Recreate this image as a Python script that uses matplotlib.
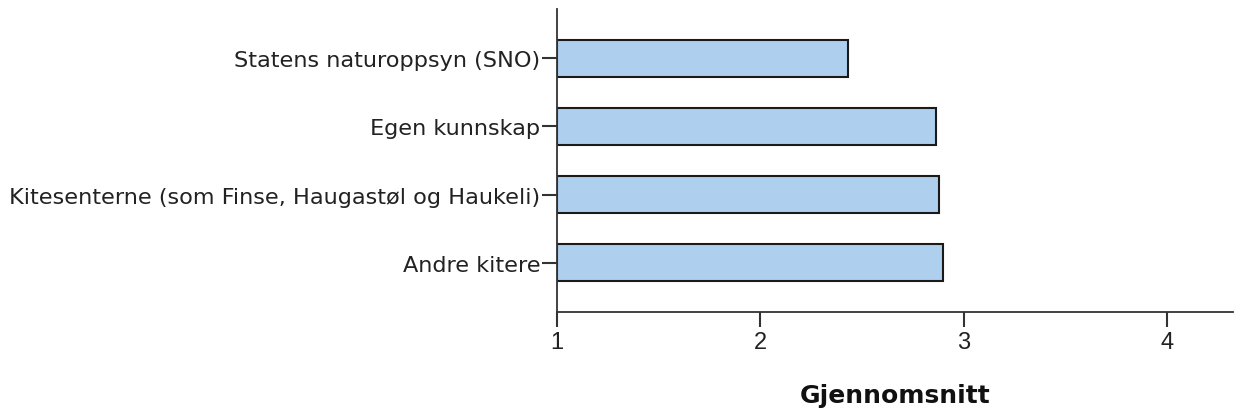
import matplotlib
matplotlib.use("Agg")
import matplotlib.pyplot as plt

# ── Data ──────────────────────────────────────────────────────────────────────
categories = [
    "Statens naturoppsyn (SNO)",
    "Egen kunnskap",
    "Kitesenterne (som Finse, Haugastøl og Haukeli)",
    "Andre kitere",
]
means = [2.43, 2.865, 2.88, 2.90]
x_ticks = [1, 2, 3, 4]
x_label = "Gjennomsnitt"

# ── Style ─────────────────────────────────────────────────────────────────────
BAR_COLOR  = "#aecfee"
EDGE_COLOR = "#1a1a1a"
AXIS_COLOR = "#333333"
BASE = 1.0

fig = plt.figure(figsize=(12.37, 4.14), dpi=100)
ax = fig.add_axes([0.4503, 0.2440, 0.5465, 0.7318])

pos = list(range(len(categories)))
ax.barh(pos, [m - BASE for m in means], left=BASE, height=0.545,
        color=BAR_COLOR, edgecolor=EDGE_COLOR, linewidth=1.5)

ax.set_xlim(1, 4.325)
ax.set_ylim(len(categories) - 1 + 0.72, -0.72)

ax.set_yticks(pos)
ax.set_yticklabels(categories, fontfamily="DejaVu Sans", fontsize=16.1,
                   color="#222222")
ax.set_xticks(x_ticks)
ax.set_xticklabels([str(t) for t in x_ticks], fontfamily="Liberation Sans",
                   fontsize=17, color="#222222")

ax.tick_params(axis="y", length=11, width=1.5, color=AXIS_COLOR, pad=1)
ax.tick_params(axis="x", length=11, width=1.5, color=AXIS_COLOR, pad=3)

for side in ("top", "right"):
    ax.spines[side].set_visible(False)
for side in ("left", "bottom"):
    ax.spines[side].set_color(AXIS_COLOR)
    ax.spines[side].set_linewidth(1.3)

ax.set_xlabel(x_label, fontfamily="DejaVu Sans", fontweight="bold",
              fontsize=18, labelpad=21, color="#111111")

fig.savefig("out.png", dpi=100)
